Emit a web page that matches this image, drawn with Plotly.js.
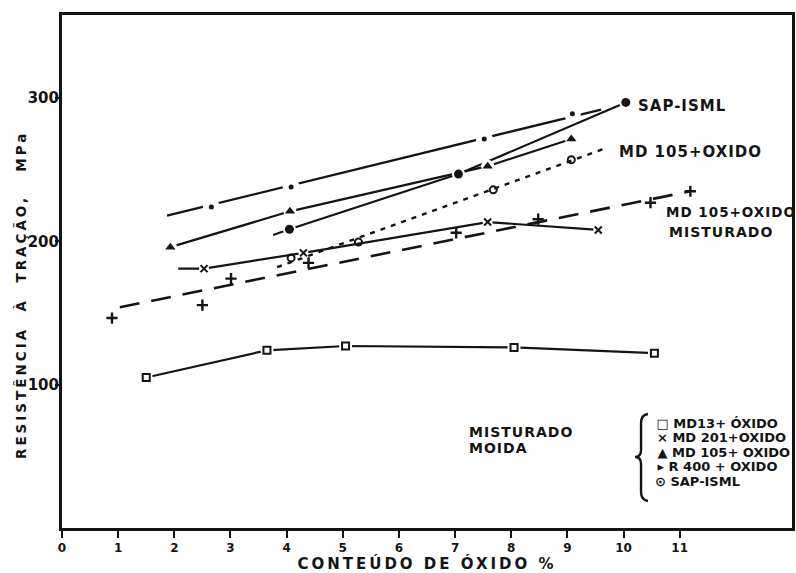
<!DOCTYPE html>
<html><head><meta charset="utf-8">
<script src="https://cdn.plot.ly/plotly-3.0.1.min.js"></script>
<style>
html,body{margin:0;padding:0;background:#fff;}
#chart{width:796px;height:573px;}
.xtitle{letter-spacing:3px;}
.annotation-text{letter-spacing:1px;}
.annotation[data-index="11"] .annotation-text{letter-spacing:3px;}
.annotation[data-index="6"] .annotation-text,
.annotation[data-index="7"] .annotation-text,
.annotation[data-index="8"] .annotation-text,
.annotation[data-index="9"] .annotation-text,
.annotation[data-index="10"] .annotation-text{letter-spacing:0px;}
</style></head><body><div id="chart"></div>
<script>
// ---- tick labels ----
const xTicks = [0,1,2,3,4,5,6,7,8,9,10,11];
const xTickText = ['0','1','2','3','4','5','6','7','8','9','10','11'];
const yTicks = [100,200,300];
const yTickText = ['100','200','300'];

// ---- MD13 + ÓXIDO (open squares, solid) ----
const md13X = [1.5, 3.65, 5.05, 8.05, 10.55];
const md13Y = [105, 124, 127, 126, 122];

// ---- MD 201 + ÓXIDO (x, solid) ----
const md201X = [2.53, 4.3, 7.58, 9.55];
const md201Y = [181, 192, 213.5, 208];
const md201LineX = [2.07, 2.53, 4.3, 7.58, 9.55];
const md201LineY = [181, 181, 192, 213.5, 208];

// ---- MD 105 + ÓXIDO (triangles, solid) ----
const md105X = [1.93, 4.06, 7.58, 9.07];
const md105Y = [196, 221, 252.5, 271.5];

// ---- R 400 + ÓXIDO (small dots, broken line) ----
const r400X = [2.66, 4.08, 7.52, 9.09];
const r400Y = [224, 238, 271.5, 289];
const r400LineX = [1.87, 9.6];
const r400LineY = [218, 292];

// ---- SAP-ISML (filled circles, solid) ----
const sapX = [4.05, 7.06, 10.04];
const sapY = [208.5, 247, 297];
const sapLineX = [3.76, 4.05, 7.06, 10.04];
const sapLineY = [204.5, 208.5, 247, 297];

// ---- MD 105 + ÓXIDO, not mixed (open circles, dotted) ----
const md105oX = [4.08, 5.28, 7.68, 9.07];
const md105oY = [188.5, 199.5, 236, 257];
const md105oLineX = [3.83, 9.68];
const md105oLineY = [182, 265];

// ---- MD 105 + ÓXIDO MISTURADO (crosses, dashed) ----
const md105mX = [0.89, 2.5, 3.01, 4.39, 7.02, 8.48, 10.48, 11.19];
const md105mY = [146.5, 155.5, 174, 185, 206, 215.5, 227, 235];
const md105mLineX = [1.03, 11.19];
const md105mLineY = [154, 235];

const INK = '#141414';
const FONT = 'DejaVu Sans';

function lineTrace(x, y, dash, width) {
  return {type:'scatter', mode:'lines', x:x, y:y, line:{color:INK, width:width, dash:dash}, hoverinfo:'skip'};
}
function haloTrace(x, y, size) {
  return {type:'scatter', mode:'markers', x:x, y:y, marker:{symbol:'circle', size:size, color:'#ffffff', line:{width:0}}, hoverinfo:'skip'};
}
function markTrace(x, y, symbol, size, lw, name) {
  return {type:'scatter', mode:'markers', name:name, x:x, y:y,
    marker:{symbol:symbol, size:size, color:INK, line:{color:INK, width:lw}}};
}

const traces = [
  lineTrace(md13X, md13Y, 'solid', 2.2),
  lineTrace(md201LineX, md201LineY, 'solid', 2.2),
  lineTrace(md105X, md105Y, 'solid', 2.2),
  lineTrace(r400LineX, r400LineY, 'solid', 2.4),
  lineTrace(sapLineX, sapLineY, 'solid', 2.2),
  lineTrace(md105oLineX, md105oLineY, '5px,6px', 2.4),
  lineTrace(md105mLineX, md105mLineY, '20px,12px', 2.6),
  haloTrace(md13X, md13Y, 13),
  haloTrace(r400X, r400Y, 17),
  haloTrace(md105X, md105Y, 13),
  haloTrace(sapX, sapY, 13),
  haloTrace(md201X, md201Y, 10),
  markTrace(md13X, md13Y, 'square-open', 7, 2, 'MD13+ ÓXIDO'),
  markTrace(md201X, md201Y, 'x-thin-open', 7, 2, 'MD 201+ÓXIDO'),
  markTrace(md105X, md105Y, 'triangle-up', 9, 0, 'MD 105+ÓXIDO'),
  markTrace(r400X, r400Y, 'circle', 5, 0, 'R 400 + ÓXIDO'),
  markTrace(sapX, sapY, 'circle', 9, 0, 'SAP-ISML'),
  markTrace(md105oX, md105oY, 'circle-open', 7, 2, 'MD 105+OXIDO'),
  markTrace(md105mX, md105mY, 'cross-thin-open', 8, 2.4, 'MD 105+OXIDO MISTURADO')
];

// pixel -> paper helpers for text placement (plot area 62..792 x 15..528)
const px = v => (v - 62) / 730;
const py = v => (528 - v) / 513;

function label(text, x, y, size, anchor) {
  return {text:text, xref:'paper', yref:'paper', x:px(x), y:py(y), showarrow:false,
    xanchor:anchor || 'left', yanchor:'middle',
    font:{family:FONT, size:size, color:INK, weight:'bold'}};
}

const annotations = [
  label('SAP-ISML', 636, 106, 15),             // 0
  label('MD 105+OXIDO', 617, 152, 15),         // 1
  label('MD 105+OXIDO', 664, 212, 13.5),       // 2
  label('MISTURADO', 667, 232, 14),            // 3
  label('MISTURADO', 467, 432, 14),            // 4
  label('MOIDA', 467, 448, 14),                // 5
  label('□ MD13+ ÓXIDO', 648, 423, 13),        // 6
  label('× MD 201+OXIDO', 648, 437.5, 13),     // 7
  label('▲ MD 105+ OXIDO', 648, 452, 13),      // 8
  label('▸ R 400 + OXIDO', 648, 466.5, 13),    // 9
  label('⊙ SAP-ISML', 648, 481, 13),           // 10
  {text:'RESISTÊNCIA\u00A0\u00A0À\u00A0\u00A0TRAÇÃO,\u00A0\u00A0\u00A0MPa', xref:'paper', yref:'paper',
   x:px(21), y:py(295), showarrow:false, textangle:-90, xanchor:'center', yanchor:'middle',
   font:{family:FONT, size:13.5, color:INK, weight:'bold'}}   // 11
];

// curly brace grouping the legend entries (drawn in paper units)
function P(x, y) { return px(x).toFixed(4) + ',' + py(y).toFixed(4); }
const bracePath = 'M' + P(648,414) + ' Q' + P(641,415) + ' ' + P(641,423) +
  ' L' + P(641,450) + ' Q' + P(641,457) + ' ' + P(635,457) +
  ' Q' + P(641,457) + ' ' + P(641,464) + ' L' + P(641,492) +
  ' Q' + P(641,500) + ' ' + P(648,501);

const layout = {
  width:796, height:573,
  margin:{l:62, r:4, t:15, b:45, pad:0},
  paper_bgcolor:'#ffffff', plot_bgcolor:'#ffffff',
  showlegend:false,
  font:{family:FONT, color:INK, size:13, weight:'bold'},
  xaxis:{range:[0,13], tickmode:'array', tickvals:xTicks, ticktext:xTickText,
    ticks:'outside', ticklen:7, tickwidth:2, tickcolor:INK,
    showline:true, linewidth:3, linecolor:INK, mirror:true,
    showgrid:false, zeroline:false,
    tickfont:{family:FONT, size:12, color:INK, weight:'bold'},
    title:{text:'CONTEÚDO DE ÓXIDO %', standoff:4, font:{family:FONT, size:15, color:INK, weight:'bold'}}},
  yaxis:{range:[0,358], tickmode:'array', tickvals:yTicks, ticktext:yTickText,
    ticks:'outside', ticklen:4, tickwidth:2, tickcolor:INK, ticklabelstandoff:-7,
    showline:true, linewidth:3, linecolor:INK, mirror:true,
    showgrid:false, zeroline:false,
    tickfont:{family:FONT, size:15, color:INK, weight:'bold'}},
  annotations:annotations,
  shapes:[{type:'path', xref:'paper', yref:'paper', path:bracePath, line:{color:INK, width:2.4}}]
};

Plotly.newPlot('chart', traces, layout, {displayModeBar:false, staticPlot:true});
</script></body></html>
